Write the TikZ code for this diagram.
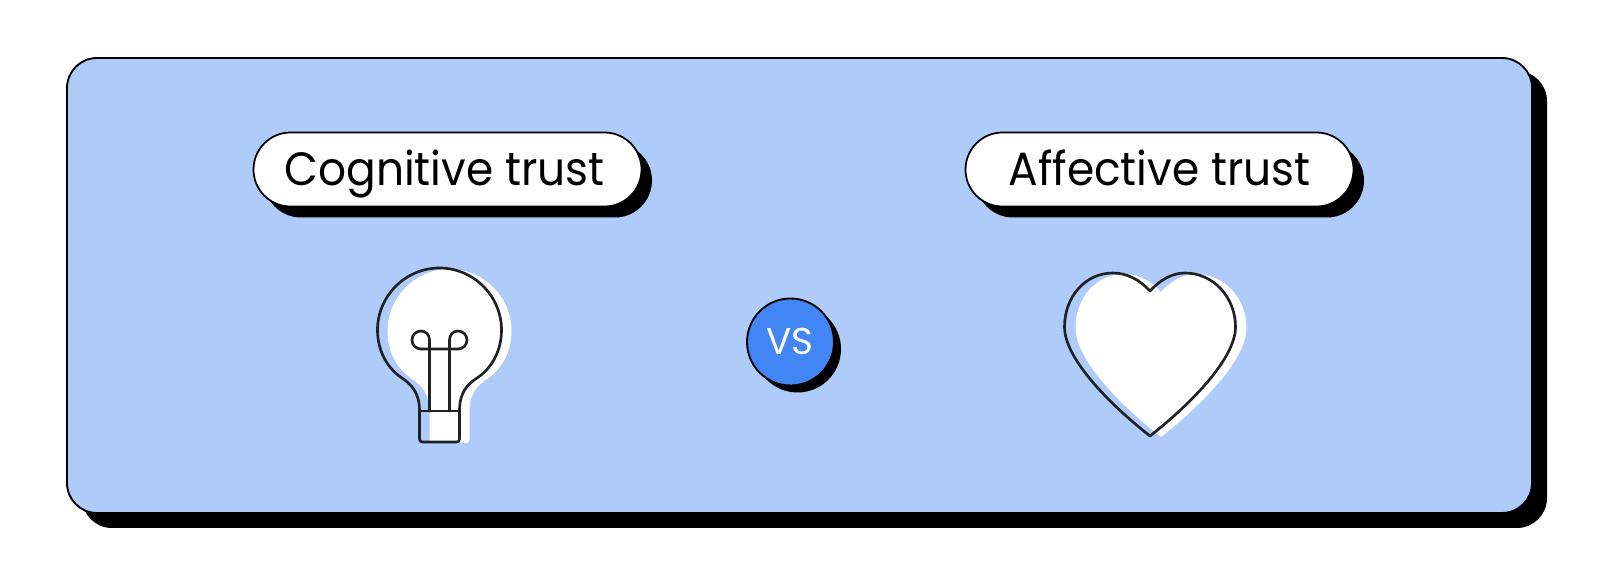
\documentclass[tikz,border=0pt]{standalone}
\usepackage{fontspec}
\setmainfont{Poppins}
\newfontfamily\labfont[FakeStretch=0.94]{Poppins}
\definecolor{panel}{HTML}{AECBFA}
\definecolor{vsblue}{HTML}{4285F4}
\definecolor{ink}{HTML}{202124}
\tikzset{
  pillbox/.style={rounded corners=27.75pt, draw=black, line width=1.3pt, fill=white},
  pillshadow/.style={rounded corners=27.75pt, fill=black},
  outlinestroke/.style={draw=ink, line width=2pt, line join=round, line cap=round},
  lab/.style={inner sep=0pt, anchor=base, text=black, font=\labfont\fontsize{35}{35}\selectfont}
}
\newcommand{\bulbpath}{(419.5,411) .. controls (419.5,392) and (411,384) .. (400.5,377) .. controls (386.5,367) and (377.5,350) .. (377.5,330) .. controls (377.5,296) and (405.5,268) .. (439.5,268) .. controls (473.5,268) and (501.5,296) .. (501.5,330) .. controls (501.5,350) and (492.5,367) .. (478.5,377) .. controls (467.5,384) and (459.5,392) .. (459.5,411) -- (459.5,439) .. controls (459.5,441) and (458.5,442) .. (456.5,442) -- (422.5,442) .. controls (420.5,442) and (419.5,441) .. (419.5,439) -- cycle}
\newcommand{\heartpath}{(1150,291) .. controls (1140,280) and (1127,273) .. (1113,273) .. controls (1085,273) and (1064.5,297) .. (1064.5,327) .. controls (1064.5,358) and (1108,403) .. (1150,436) .. controls (1192,403) and (1235.5,358) .. (1235.5,327) .. controls (1235.5,297) and (1213,273) .. (1185,273) .. controls (1172,273) and (1160,280) .. (1150,291) -- cycle}
\begin{document}
\begin{tikzpicture}[x=0.75pt,y=-0.75pt]
\useasboundingbox (0,0) rectangle (1600,580);
% panel
\fill[black, rounded corners=22.5pt] (82,71) rectangle (1547,528);
\filldraw[fill=panel, draw=black, line width=1.4pt, rounded corners=22.5pt] (67,58) rectangle (1532,513);
% pills
\fill[pillshadow] (264,143.5) rectangle (652,217.5);
\draw[pillbox] (253.5,132.5) rectangle (641.5,206.5);
\node[lab] (cog) at (444.5,185.5) {Cognitive trust};
\fill[pillshadow] (976,143.5) rectangle (1364,217.5);
\draw[pillbox] (965.5,132.5) rectangle (1353.5,206.5);
\node[lab] (aff) at (1159.5,185.5) {Affective trust};
% bulb
\begin{scope}[shift={(10,1)}]
\fill[white] \bulbpath;
\end{scope}
\draw[outlinestroke] \bulbpath;
\draw[outlinestroke] (419.5,411) -- (459.5,411);
\draw[outlinestroke] (429.5,411) -- (429.5,340) .. controls (429.5,335) and (426,331) .. (421,331) .. controls (416,331) and (412,335) .. (412,340) .. controls (412,345) and (416,349) .. (421,349) -- (458,349) .. controls (463,349) and (467,345) .. (467,340) .. controls (467,335) and (463,331) .. (458,331) .. controls (453,331) and (449.5,335) .. (449.5,340) -- (449.5,411);
% VS
\fill[black] (797.5,349) circle[radius=43.5];
\node[circle, draw=black, line width=1.4pt, fill=vsblue, minimum size=65.25pt, inner sep=0pt] (vsc) at (790.5,342) {};
\node[inner sep=0pt, anchor=base, text=white, font=\fontsize{28}{28}\selectfont] (vs) at (790,355) {VS};
% heart
\begin{scope}[shift={(11,1)}]
\fill[white] \heartpath;
\end{scope}
\draw[outlinestroke] \heartpath;
\end{tikzpicture}
\end{document}
